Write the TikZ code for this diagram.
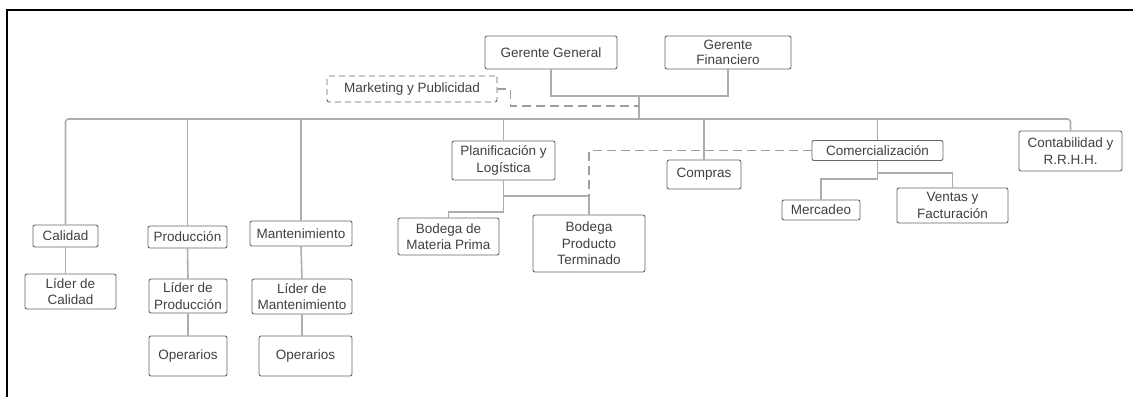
\documentclass[tikz,border=0pt]{standalone}
\usepackage{fontspec}
\setmainfont{Liberation Sans}
\begin{document}
\begin{tikzpicture}[x=1pt,y=-1pt,
  box/.style={draw=black!60, line width=0.9pt, rounded corners=2pt, fill=white,
    inner sep=0pt, align=center, text=black!75,
    font=\fontsize{13.5}{16.5}\selectfont},
  dbox/.style={box, dashed, dash pattern=on 6pt off 4pt},
  conn/.style={draw=black!32, line width=1.6pt},
  dconn/.style={draw=black!38, line width=1.2pt, dash pattern=on 9pt off 5pt}]
\useasboundingbox (0,0) rectangle (1133,397);
% frame
\draw[line width=1.4pt] (7,397) -- (7,10) -- (1133,10);

% nodes
\node[box, minimum width=132, minimum height=33] (gg) at (551,52.5) {Gerente General};
\node[box, minimum width=126, minimum height=33] (gf) at (728,52.5) {Gerente\\[-1pt]Financiero};
\node[dbox, minimum width=170, minimum height=26] (mk) at (412,89) {Marketing y Publicidad};

\node[box, minimum width=65, minimum height=22] (cal) at (65.5,236) {Calidad};
\node[box, minimum width=79, minimum height=22] (pro) at (187.5,237) {Producción};
\node[box, minimum width=102, minimum height=25] (man) at (301,233.5) {Mantenimiento};
\node[box, minimum width=103, minimum height=39] (pl) at (503.5,160.5) {Planificación y\\Logística};
\node[box, minimum width=74, minimum height=29] (com) at (704,174.5) {Compras};
\node[box, minimum width=131, minimum height=20] (cm) at (877.5,150.5) {Comercialización};
\node[box, minimum width=103, minimum height=40] (ct) at (1070.5,151) {Contabilidad y\\R.R.H.H.};

\node[box, minimum width=101, minimum height=37] (bmp) at (448.5,236.5) {Bodega de\\Materia Prima};
\node[box, minimum width=112, minimum height=57] (bpt) at (589,243.5) {Bodega\\Producto\\Terminado};
\node[box, minimum width=78, minimum height=20] (mer) at (821,210) {Mercadeo};
\node[box, minimum width=111, minimum height=35] (vf) at (952.5,205.5) {Ventas y\\Facturación};

\node[box, minimum width=91, minimum height=35] (lc) at (70.5,291.5) {Líder de\\Calidad};
\node[box, minimum width=78, minimum height=34] (lp) at (188,296) {Líder de\\Producción};
\node[box, minimum width=78, minimum height=40] (op1) at (188,356) {Operarios};
\node[box, minimum width=100, minimum height=35] (lm) at (302,296.5) {Líder de\\Mantenimiento};
\node[box, minimum width=93, minimum height=40] (op2) at (305.5,356) {Operarios};

% junction points
\coordinate (top) at (639,96);
\coordinate (mkj) at (639,106);
\coordinate (busL) at (65.5,119);
\coordinate (busR) at (1070.5,119);
\coordinate (plA) at (503.5,196);
\coordinate (plB) at (503.5,212);
\coordinate (cmA) at (877.5,173);
\coordinate (cmB) at (877.5,179);

\begin{scope}[on background layer/.style={}]
% management
\draw[conn] (gg.south) |- (top) -| (gf.south);
\draw[conn] (top) -- (top |- busL);
\draw[dconn] (mk.east) -- ++(13,0) |- (mkj);
% main bus
\draw[conn, rounded corners=3pt] (cal.north) -- (busL) -- (busR) -- (ct.north);
\draw[conn] (pro.north |- busL) -- (pro.north);
\draw[conn] (man.north |- busL) -- (man.north);
\draw[conn] (pl.north |- busL) -- (pl.north);
\draw[conn] (com.north |- busL) -- (com.north);
\draw[conn] (cm.north |- busL) -- (cm.north);
% logistics
\draw[conn] (pl.south) -- (plA) -| (bpt.north);
\draw[conn] (plA) -- (plB) -| (bmp.north);
\draw[dconn] (cm.west) -| (bpt.north |- plA);
% sales
\draw[conn] (cm.south) -- (cmB) -| (mer.north);
\draw[conn] (cmA) -| (vf.north);
% lower levels
\draw[conn] (cal.south) -- (cal.south |- lc.north);
\draw[conn] (pro.south) -- (lp.north);
\draw[conn] (lp.south) -- (op1.north);
\draw[conn] (man.south) -- (lm.north);
\draw[conn] (lm.south) -- (lm.south |- op2.north);
\end{scope}
\end{tikzpicture}
\end{document}
